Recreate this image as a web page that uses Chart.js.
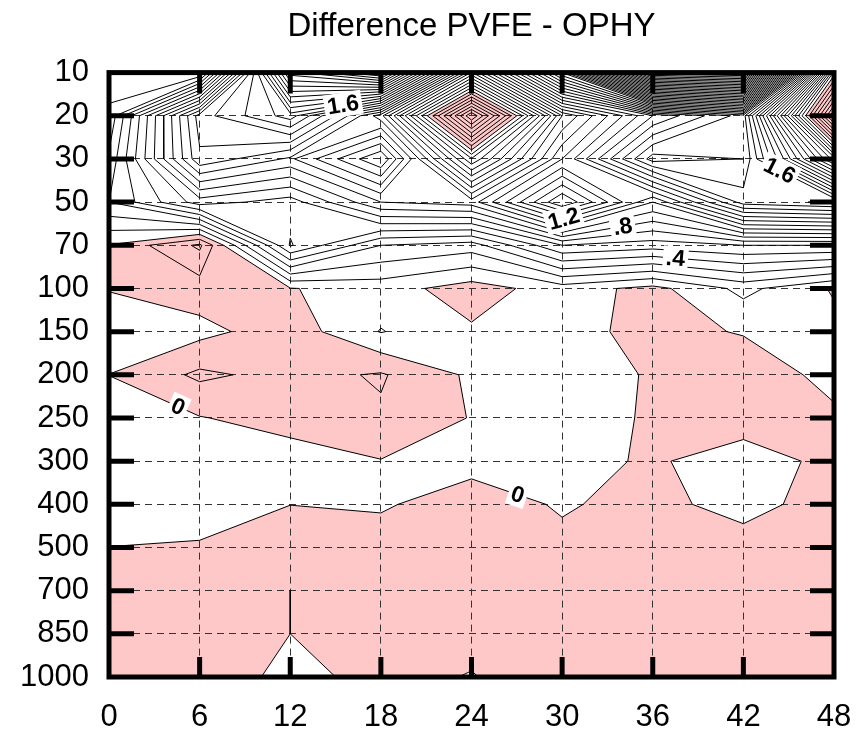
<!DOCTYPE html>
<html>
<head>
<meta charset="utf-8">
<title>Difference PVFE - OPHY</title>
<script src="https://cdn.jsdelivr.net/npm/chart.js@4.4.1/dist/chart.umd.min.js"></script>
<style>
  html, body { margin: 0; padding: 0; background: #fff; }
</style>
</head>
<body>
<canvas id="diffChart" width="857" height="731"></canvas>
<script>
// forecast hours (x) and pressure levels in hPa (y, top to bottom)
const hours = [0, 6, 12, 18, 24, 30, 36, 42, 48];
const levels = ['10', '20', '30', '50', '70', '100', '150', '200', '250', '300', '400', '500', '700', '850', '1000'];

// PVFE minus OPHY, one row per level, one value per forecast hour
const d10   = [0.05, -0.02, 2.35, 2.75, 0.58, 2.2, 4.5, 4.6, 0.06];
const d20   = [0.12, 1.25, 1.55, 0.84, -0.8, 0.8, 1.4, 1.75, -0.8];
const d30   = [0.22, 1.18, 0.98, 1.4, 0.21, 1.1, 1.85, 1.8, 0.45];
const d50   = [0.3, 0.65, 0.55, 0.9, 0.95, 1.6, 1.0, 1.65, 1.72];
const d70   = [-0.005, -0.22, 0.61, 0.3, 0.25, 0.6, 0.55, 0.6, 0.6];
const d100  = [-0.005, -0.05, -0.005, 0.045, -0.048, 0.05, -0.033, 0.13, -0.011];
const d150  = [0.06, 0.03, -0.056, 0.105, 0.0135, 0.03, -0.027, 0.006, 0.031];
const d200  = [-0.001, -0.12, -0.066, -0.11, 0.018, 0.06, -0.011, -0.054, 0.028];
const d250  = [0.05, 0.005, -0.04, -0.086, 0.005, 0.05, -0.0125, -0.076, -0.016];
const d300  = [0.05, 0.06, 0.047, 0.004, 0.03, 0.05, -0.019, 0.076, -0.043];
const d400  = [0.05, 0.02, 0.001, 0.01, -0.043, 0.0094, -0.031, 0.04, -0.051];
const d500  = [-0.001, -0.004, -0.05, -0.04, -0.05, -0.022, -0.05, -0.049, -0.05];
const d700  = [-0.05, -0.05, 0, -0.05, -0.05, -0.05, -0.05, -0.05, -0.05];
const d850  = [-0.05, -0.05, 0, -0.05, -0.03, -0.05, -0.05, -0.05, -0.05];
const d1000 = [-0.05, -0.064, 0.03, -0.03, 0.005, -0.06, -0.05, -0.05, -0.05];

const rows = [d10, d20, d30, d50, d70, d100, d150, d200, d250, d300, d400, d500, d700, d850, d1000];
const contourStep = 0.1;

// where each labelled contour gets its tag (hour, level index)
const contourLabels = [
  { level: 1.6, near: [15.6, 0.97] },
  { level: 1.2, near: [30.2, 3.5] },
  { level: 0.8, near: [33.9, 3.34] },
  { level: 0.4, near: [37.5, 4.33] },
  { level: 1.6, near: [44.6, 2.13] },
  { level: 0, near: [4.5, 7.8] },
  { level: 0, near: [27.0, 9.83] }
];

function cellCorners(i, j) {
  return [
    { x: hours[i], y: j, v: rows[j][i] },
    { x: hours[i + 1], y: j, v: rows[j][i + 1] },
    { x: hours[i + 1], y: j + 1, v: rows[j + 1][i + 1] },
    { x: hours[i], y: j + 1, v: rows[j + 1][i] }
  ];
}

function cut(a, b, lvl) {
  const t = (lvl - a.v) / (b.v - a.v);
  return { x: a.x + t * (b.x - a.x), y: a.y + t * (b.y - a.y) };
}

// marching squares, low corners kept connected at saddles
function traceLevel(lvl) {
  const segs = [];
  for (let j = 0; j < rows.length - 1; j++) {
    for (let i = 0; i < hours.length - 1; i++) {
      const c = cellCorners(i, j);
      const up = c.map(p => p.v >= lvl);
      const start = up.indexOf(false);
      if (start < 0 || up.indexOf(true) < 0) continue;
      const pts = [];
      for (let k = 0; k < 4; k++) {
        const a = c[(start + k) % 4], b = c[(start + k + 1) % 4];
        if ((a.v >= lvl) !== (b.v >= lvl)) pts.push(cut(a, b, lvl));
      }
      for (let k = 0; k + 1 < pts.length; k += 2) segs.push([pts[k], pts[k + 1]]);
    }
  }
  return segs;
}

// negative part of every cell, as polygons
function negativeCells() {
  const polys = [];
  for (let j = 0; j < rows.length - 1; j++) {
    for (let i = 0; i < hours.length - 1; i++) {
      const c = cellCorners(i, j);
      if (c.every(p => p.v >= 0)) continue;
      const poly = [];
      for (let k = 0; k < 4; k++) {
        const a = c[k], b = c[(k + 1) % 4];
        if (a.v < 0) poly.push({ x: a.x, y: a.y });
        if ((a.v < 0) !== (b.v < 0)) poly.push(cut(a, b, 0));
      }
      polys.push(poly);
    }
  }
  return polys;
}

const allValues = rows.flat();
const kMin = Math.ceil(Math.min(...allValues) / contourStep - 1e-9);
const kMax = Math.floor(Math.max(...allValues) / contourStep + 1e-9);

const segsByLevel = {};
const contourPoints = [];
for (let k = kMin; k <= kMax; k++) {
  const lvl = k / 10;
  const segs = traceLevel(lvl);
  segsByLevel[k] = segs;
  segs.forEach(s => {
    contourPoints.push(s[0], s[1], { x: null, y: null });
  });
}
const negPolys = negativeCells();

function fmtLevel(v) {
  if (v === 0) return '0';
  const s = Math.abs(v).toFixed(1).replace(/^0/, '');
  return (v < 0 ? '-' : '') + s;
}

const shading = {
  id: 'shading',
  beforeDraw(chart) {
    const { ctx, scales: { x, y } } = chart;
    ctx.save();
    ctx.fillStyle = '#ffc8c8';
    ctx.beginPath();
    negPolys.forEach(poly => {
      poly.forEach((p, n) => {
        const px = x.getPixelForValue(p.x), py = y.getPixelForValue(p.y);
        if (n === 0) ctx.moveTo(px, py); else ctx.lineTo(px, py);
      });
      ctx.closePath();
    });
    ctx.fill('nonzero');
    ctx.restore();
  }
};

const labeller = {
  id: 'labeller',
  afterDatasetsDraw(chart) {
    const { ctx, scales: { x, y } } = chart;
    ctx.save();
    ctx.font = 'bold 23px "Liberation Sans", Arial, sans-serif';
    ctx.textAlign = 'center';
    ctx.textBaseline = 'middle';
    contourLabels.forEach(lab => {
      const segs = segsByLevel[Math.round(lab.level * 10)] || [];
      const tx = x.getPixelForValue(lab.near[0]), ty = y.getPixelForValue(lab.near[1]);
      let best = null;
      segs.forEach(s => {
        const ax = x.getPixelForValue(s[0].x), ay = y.getPixelForValue(s[0].y);
        const bx = x.getPixelForValue(s[1].x), by = y.getPixelForValue(s[1].y);
        const dx = bx - ax, dy = by - ay;
        const len2 = dx * dx + dy * dy;
        let t = len2 > 0 ? ((tx - ax) * dx + (ty - ay) * dy) / len2 : 0;
        t = Math.max(0, Math.min(1, t));
        const px = ax + t * dx, py = ay + t * dy;
        const d = (px - tx) ** 2 + (py - ty) ** 2;
        if (len2 > 1 && (!best || d < best.d)) best = { d, px, py, ang: Math.atan2(dy, dx) };
      });
      if (!best) return;
      let ang = best.ang;
      if (ang > Math.PI / 2) ang -= Math.PI;
      if (ang < -Math.PI / 2) ang += Math.PI;
      const text = fmtLevel(lab.level);
      const w = ctx.measureText(text).width;
      ctx.save();
      ctx.translate(best.px, best.py);
      ctx.rotate(ang);
      ctx.fillStyle = '#fff';
      ctx.fillRect(-w / 2 - 3, -12, w + 6, 24);
      ctx.fillStyle = '#000';
      ctx.fillText(text, 0, 1);
      ctx.restore();
    });
    ctx.restore();
  }
};

// heavy frame with inward tick marks on all four sides
const frame = {
  id: 'frame',
  afterDraw(chart) {
    const { ctx, chartArea: a, scales: { x, y } } = chart;
    ctx.save();
    ctx.strokeStyle = '#000';
    ctx.lineWidth = 5;
    ctx.beginPath();
    hours.slice(1, -1).forEach(h => {
      const px = x.getPixelForValue(h);
      ctx.moveTo(px, a.bottom); ctx.lineTo(px, a.bottom - 20);
      ctx.moveTo(px, a.top); ctx.lineTo(px, a.top + 21);
    });
    levels.slice(1, -1).forEach((_, n) => {
      const py = y.getPixelForValue(n + 1);
      ctx.moveTo(a.left, py); ctx.lineTo(a.left + 25, py);
      ctx.moveTo(a.right, py); ctx.lineTo(a.right - 24, py);
    });
    ctx.stroke();
    ctx.strokeRect(a.left, a.top, a.right - a.left, a.bottom - a.top);
    ctx.restore();
  }
};

const tickFont = { family: '"Liberation Sans", Arial, sans-serif', size: 31 };

new Chart(document.getElementById('diffChart'), {
  type: 'line',
  data: {
    datasets: [{
      label: 'contours',
      data: contourPoints,
      borderColor: '#000',
      borderWidth: 1,
      pointRadius: 0,
      spanGaps: false,
      tension: 0,
      fill: false
    }]
  },
  options: {
    responsive: false,
    animation: false,
    devicePixelRatio: 1,
    layout: { padding: { left: 0, right: 23, top: 0, bottom: 0 } },
    plugins: {
      legend: { display: false },
      tooltip: { enabled: false },
      title: {
        display: true,
        fullSize: false,
        text: 'Difference PVFE - OPHY',
        color: '#000',
        font: { family: '"Liberation Sans", Arial, sans-serif', size: 33, weight: 'normal' },
        padding: { top: 7, bottom: 26 }
      }
    },
    scales: {
      x: {
        type: 'linear',
        min: 0,
        max: 48,
        afterFit(s) { s.height = 54; s.paddingLeft = 0; s.paddingRight = 0; },
        ticks: { stepSize: 6, color: '#000', font: tickFont, padding: 22, maxRotation: 0 },
        grid: { color: '#333', lineWidth: 1, drawTicks: false },
        border: { display: false, dash: [7, 5] }
      },
      y: {
        type: 'linear',
        min: 0,
        max: 14,
        reverse: true,
        afterFit(s) { s.width = 109; s.paddingTop = 0; s.paddingBottom = 0; },
        ticks: { stepSize: 1, color: '#000', font: tickFont, padding: 20, callback: v => levels[v] },
        grid: { color: '#333', lineWidth: 1, drawTicks: false },
        border: { display: false, dash: [7, 5] }
      }
    }
  },
  plugins: [shading, labeller, frame]
});
</script>
</body>
</html>
